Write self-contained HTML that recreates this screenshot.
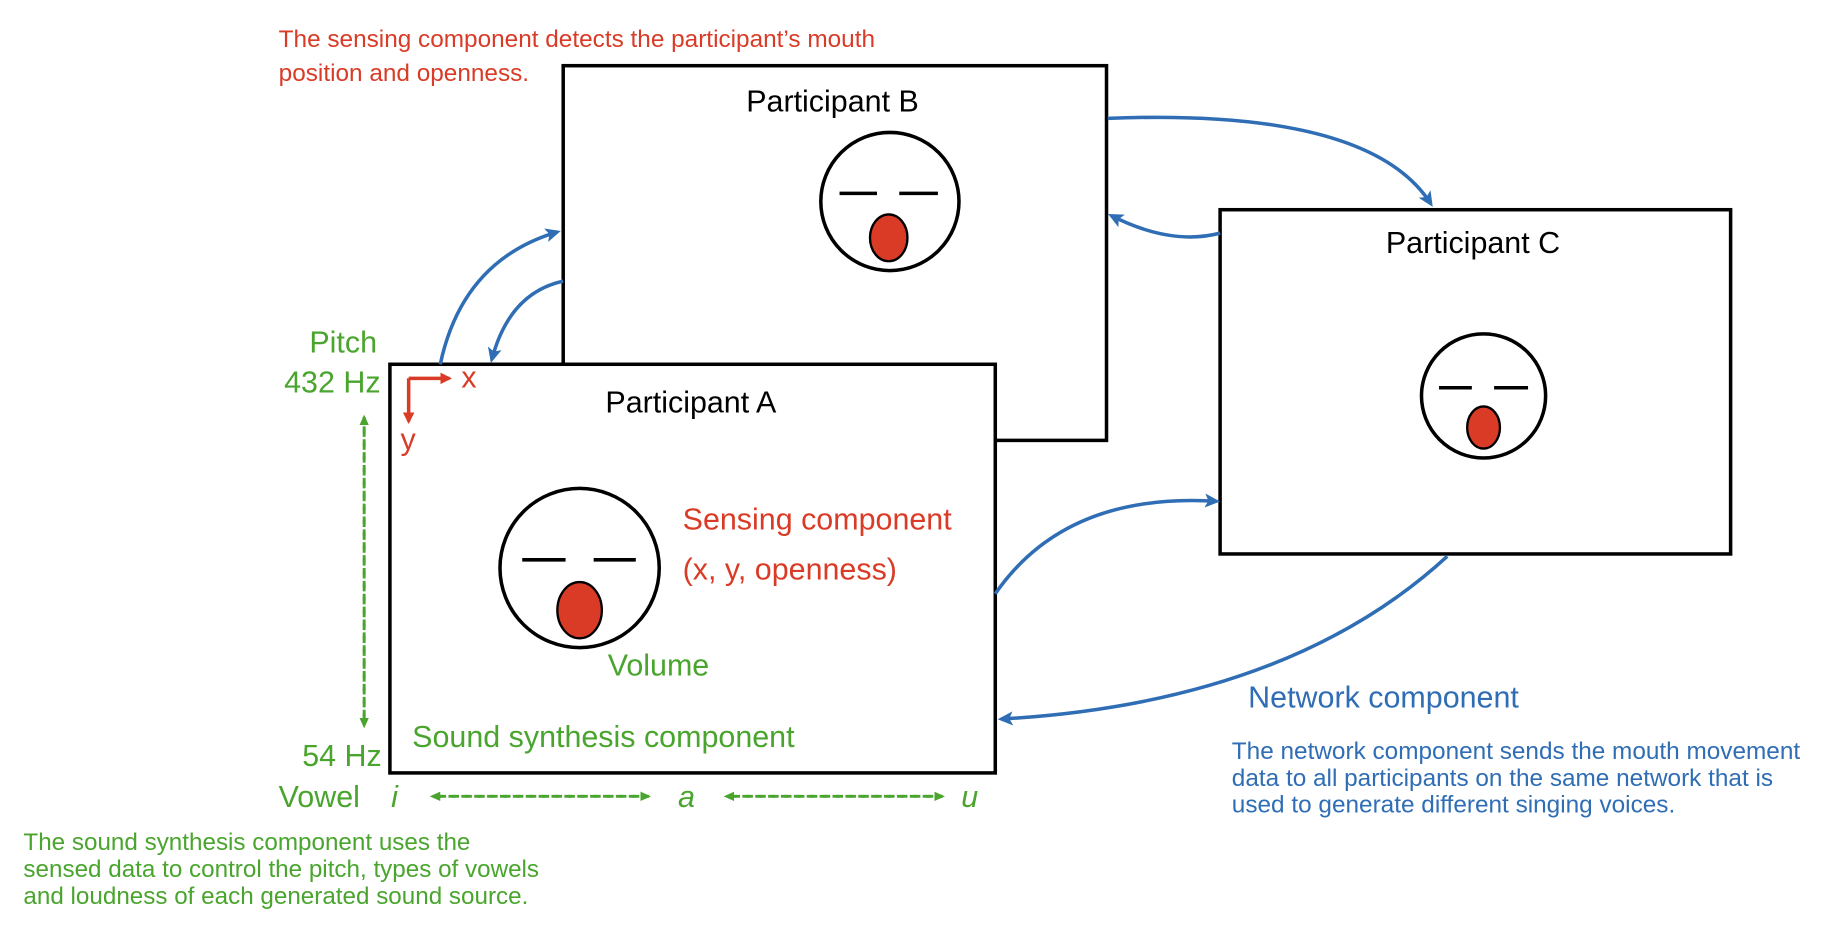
<!DOCTYPE html>
<html><head><meta charset="utf-8"><style>body{margin:0;background:#fff}svg{display:block}</style></head><body>
<svg width="1836" height="944" viewBox="0 0 1568 806" xmlns="http://www.w3.org/2000/svg" font-family="Liberation Sans, sans-serif">
<defs>
<marker id="bl" markerWidth="14" markerHeight="14" refX="10" refY="6" orient="auto" markerUnits="userSpaceOnUse"><path d="M0,0 L13,6 L0,12 L3,6z" fill="#2f6db5"/></marker>
<marker id="gr" markerWidth="10" markerHeight="10" refX="7" refY="4" orient="auto" markerUnits="userSpaceOnUse"><path d="M0,0 L9,4 L0,8z" fill="#4aa52e"/></marker>
<marker id="rd" markerWidth="12" markerHeight="12" refX="8" refY="5" orient="auto" markerUnits="userSpaceOnUse"><path d="M0,0 L10,5 L0,10z" fill="#d93b27"/></marker>
</defs>
<rect x="481" y="56" width="464" height="320" fill="#fff" stroke="#000" stroke-width="3"/>
<rect x="1042" y="179" width="436" height="294" fill="#fff" stroke="#000" stroke-width="3"/>
<rect x="333" y="311" width="517" height="349" fill="#fff" stroke="#000" stroke-width="3"/>
<g stroke="#000" stroke-width="3" fill="#fff">
<circle cx="760" cy="172" r="59"/><circle cx="495" cy="485" r="68"/><circle cx="1267" cy="338" r="53"/>
<path d="M717 165H749M768 165H801M446 478H483M507 478H543M1229 331H1257M1276 331H1305" fill="none"/>
</g>
<g fill="#d93b27" stroke="#000" stroke-width="2">
<ellipse cx="759" cy="203" rx="16" ry="20"/><ellipse cx="495" cy="521" rx="19" ry="24"/><ellipse cx="1267" cy="365" rx="14" ry="18"/>
</g>
<g fill="none" stroke="#2f6db5" stroke-width="3" marker-end="url(#bl)">
<path d="M946 101 Q1170 92 1222 174"/>
<path d="M1042 199 Q1000 210 949 184"/>
<path d="M376 311 Q395 222 476 198"/>
<path d="M481 240 Q435 250 420 307"/>
<path d="M850 507 Q910 420 1039 428"/>
<path d="M1236 475 Q1100 600 855 614"/>
</g>
<g stroke="#4aa52e" stroke-width="2.5" stroke-dasharray="6,5" fill="none">
<path d="M311 612 V356" marker-end="url(#gr)"/>
<path d="M311 356 V620" marker-end="url(#gr)"/>
<path d="M375 680 H554" marker-end="url(#gr)"/><path d="M554 680 H369" marker-end="url(#gr)"/>
<path d="M626 680 H805" marker-end="url(#gr)"/><path d="M805 680 H620" marker-end="url(#gr)"/>
</g>
<g stroke="#d93b27" stroke-width="3" fill="none">
<path d="M349 323 H384" marker-end="url(#rd)"/><path d="M349 323 V360" marker-end="url(#rd)"/>
</g>
<g font-size="26" fill="#000" text-anchor="middle">
<text x="711" y="95">Participant B</text><text x="1258" y="216">Participant C</text><text x="590" y="352">Participant A</text>
</g>
<g fill="#d93b27">
<text x="238" y="40" font-size="20.8">The sensing component detects the participant’s mouth</text>
<text x="238" y="69" font-size="20.8">position and openness.</text>
<text x="394" y="331" font-size="26">x</text><text x="342" y="384" font-size="26">y</text>
<text x="583" y="452" font-size="26">Sensing component</text>
<text x="583" y="495" font-size="26">(x, y, openness)</text>
</g>
<g fill="#4aa52e" font-size="26">
<text x="322" y="301" text-anchor="end">Pitch</text>
<text x="325" y="335" text-anchor="end">432 Hz</text>
<text x="326" y="654" text-anchor="end">54 Hz</text>
<text x="238" y="689">Vowel</text>
<text x="334" y="689" font-style="italic">i</text>
<text x="579" y="689" font-style="italic">a</text>
<text x="821" y="689" font-style="italic">u</text>
<text x="519" y="577">Volume</text>
<text x="352" y="638">Sound synthesis component</text>
<g font-size="20.7"><text x="20" y="726">The sound synthesis component uses the</text>
<text x="20" y="749">sensed data to control the pitch, types of vowels</text>
<text x="20" y="772">and loudness of each generated sound source.</text></g>
</g>
<g fill="#2f6db5">
<text x="1066" y="604" font-size="26">Network component</text>
<g font-size="20.8"><text x="1052" y="648">The network component sends the mouth movement</text>
<text x="1052" y="671">data to all participants on the same network that is</text>
<text x="1052" y="694">used to generate different singing voices.</text></g>
</g>
</svg>
</body></html>
